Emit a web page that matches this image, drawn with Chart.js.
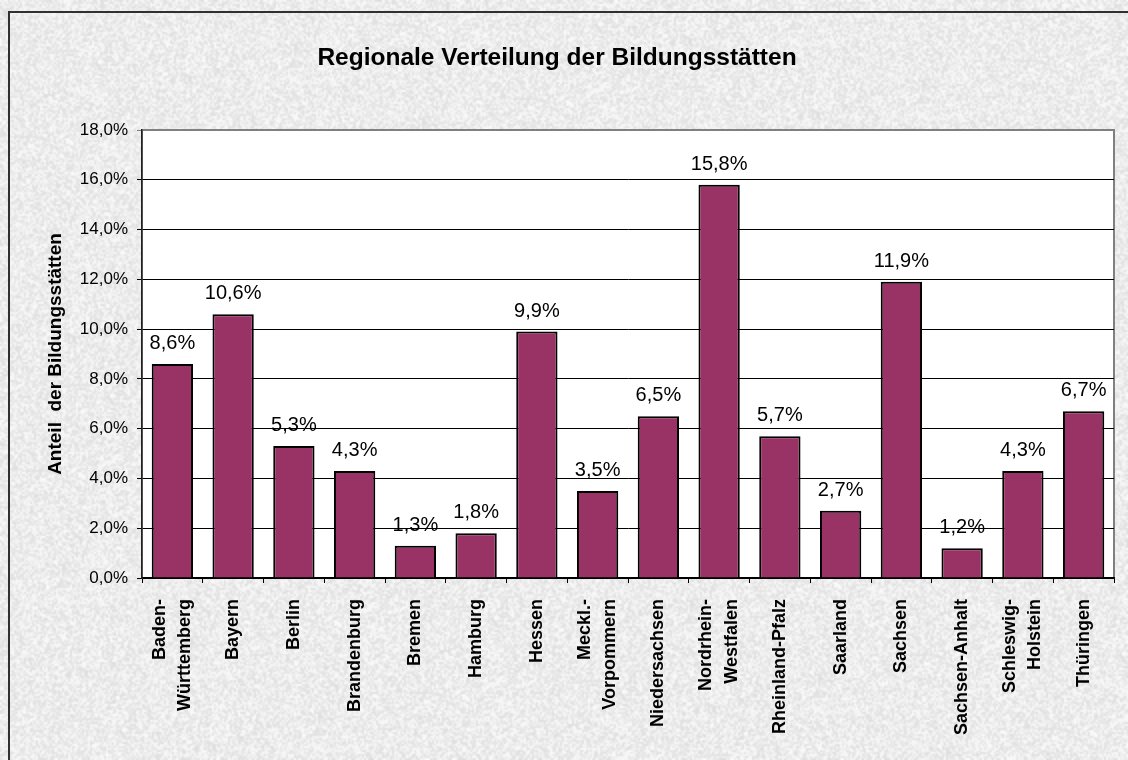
<!DOCTYPE html>
<html>
<head>
<meta charset="utf-8">
<title>Regionale Verteilung der Bildungsstätten</title>
<script src="https://cdn.jsdelivr.net/npm/chart.js@4"></script>
<style>
    body { margin: 0; background: #ebebeb; }
    canvas { display: block; }
</style>
</head>
<body>
<canvas id="chart" width="1128" height="760"></canvas>
<script>
const regions = [
    ['Baden-', 'Württemberg'],
    'Bayern',
    'Berlin',
    'Brandenburg',
    'Bremen',
    'Hamburg',
    'Hessen',
    ['Meckl.-', 'Vorpommern'],
    'Niedersachsen',
    ['Nordrhein-', 'Westfalen'],
    'Rheinland-Pfalz',
    'Saarland',
    'Sachsen',
    'Sachsen-Anhalt',
    ['Schleswig-', 'Holstein'],
    'Thüringen'
];
const shares = [8.6, 10.6, 5.3, 4.3, 1.3, 1.8, 9.9, 3.5, 6.5, 15.8, 5.7, 2.7, 11.9, 1.2, 4.3, 6.7];
const yTicks = [0, 2, 4, 6, 8, 10, 12, 14, 16, 18];

function pct(v) {
    return v.toFixed(1).replace('.', ',') + '%';
}

// grey stone texture behind everything (fixed seed, not data)
function makeGranite(w, h) {
    const small = document.createElement('canvas');
    small.width = Math.ceil(w / 2);
    small.height = Math.ceil(h / 2);
    const g = small.getContext('2d');
    const img = g.createImageData(small.width, small.height);
    let seed = 20240611;
    for (let i = 0; i < small.width * small.height; i++) {
        seed = (seed * 1103515245 + 12345) & 0x7fffffff;
        let v = 222 + ((seed >> 8) % 30);
        img.data[i * 4] = v;
        img.data[i * 4 + 1] = v;
        img.data[i * 4 + 2] = v;
        img.data[i * 4 + 3] = 255;
    }
    g.putImageData(img, 0, 0);
    const big = document.createElement('canvas');
    big.width = w;
    big.height = h;
    const bg = big.getContext('2d');
    bg.imageSmoothingEnabled = true;
    bg.drawImage(small, 0, 0, w, h);
    return big;
}

const backdrop = {
    id: 'backdrop',
    beforeDraw(chart) {
        const ctx = chart.ctx;
        const a = chart.chartArea;
        if (!chart._granite) chart._granite = makeGranite(chart.width, chart.height);
        ctx.save();
        ctx.drawImage(chart._granite, 0, 0);
        ctx.strokeStyle = '#303030';
        ctx.lineWidth = 2;
        ctx.strokeRect(9, 12, chart.width + 20, chart.height + 20);
        ctx.fillStyle = '#ffffff';
        ctx.fillRect(a.left, a.top, a.right - a.left, a.bottom - a.top);
        ctx.strokeStyle = '#808080';
        ctx.lineWidth = 2;
        ctx.strokeRect(a.left, a.top, a.right - a.left, a.bottom - a.top);
        ctx.restore();
    }
};

// two-line category names: centre both lines on the tick
const centerLines = {
    id: 'centerLines',
    beforeDraw(chart) {
        const items = chart.scales.x.getLabelItems(chart.chartArea);
        items.forEach(function (it) {
            if (Array.isArray(it.label) && !it._shifted) {
                it.options.translation[0] -= it.font.lineHeight * (it.label.length - 1) / 2;
                it._shifted = true;
            }
        });
    }
};

const valueLabels = {
    id: 'valueLabels',
    afterDatasetsDraw(chart) {
        const ctx = chart.ctx;
        const meta = chart.getDatasetMeta(0);
        ctx.save();
        ctx.font = '20px "Liberation Sans", Arial, sans-serif';
        ctx.fillStyle = '#000';
        ctx.textAlign = 'center';
        ctx.textBaseline = 'alphabetic';
        meta.data.forEach(function (bar, i) {
            ctx.fillText(pct(shares[i]), bar.x, bar.y - 15);
        });
        ctx.restore();
    }
};

document.addEventListener('DOMContentLoaded', function () {
    var ctx = document.getElementById('chart').getContext('2d');
    var barChart = new Chart(ctx, {
        type: 'bar',
        data: {
            labels: regions,
            datasets: [{
                data: shares,
                backgroundColor: '#993366',
                borderColor: '#000000',
                borderWidth: 2,
                borderSkipped: 'bottom',
                barPercentage: 0.68,
                categoryPercentage: 1
            }]
        },
        options: {
            responsive: false,
            animation: false,
            layout: {
                padding: { left: 0, right: 14, top: 0, bottom: 0 }
            },
            scales: {
                x: {
                    afterFit: function (s) { s.height = 182; },
                    grid: {
                        drawOnChartArea: false,
                        drawTicks: true,
                        tickLength: 5,
                        color: '#000'
                    },
                    border: { color: '#000', width: 1.5 },
                    ticks: {
                        autoSkip: false,
                        minRotation: 90,
                        maxRotation: 90,
                        padding: 16,
                        color: '#000',
                        font: { family: '"Liberation Sans", Arial, sans-serif', size: 18, weight: 'bold', lineHeight: 1.4 }
                    }
                },
                y: {
                    min: 0,
                    max: 18,
                    afterFit: function (s) { s.width = 142; },
                    afterBuildTicks: function (s) {
                        s.ticks = yTicks.map(function (v) { return { value: v }; });
                    },
                    grid: {
                        color: function (c) { return c.tick && c.tick.value === 18 ? '#808080' : '#000'; },
                        tickLength: 5,
                        lineWidth: 1
                    },
                    border: { color: '#202020', width: 1.5 },
                    ticks: {
                        padding: 9,
                        color: '#000',
                        font: { family: '"Liberation Sans", Arial, sans-serif', size: 17 },
                        callback: function (v) { return pct(v); }
                    },
                    title: {
                        display: true,
                        text: 'Anteil  der Bildungsstätten',
                        color: '#000',
                        padding: { top: 44, bottom: 0 },
                        font: { family: '"Liberation Sans", Arial, sans-serif', size: 19, weight: 'bold' }
                    }
                }
            },
            plugins: {
                title: {
                    display: true,
                    text: 'Regionale Verteilung der Bildungsstätten',
                    color: '#000',
                    padding: { top: 44, bottom: 56.6 },
                    font: { family: '"Liberation Sans", Arial, sans-serif', size: 24.5, weight: 'bold', lineHeight: 1.2 }
                },
                legend: {
                    display: false
                },
                tooltip: {
                    enabled: false
                }
            }
        },
        plugins: [backdrop, centerLines, valueLabels]
    });
});
</script>
</body>
</html>
